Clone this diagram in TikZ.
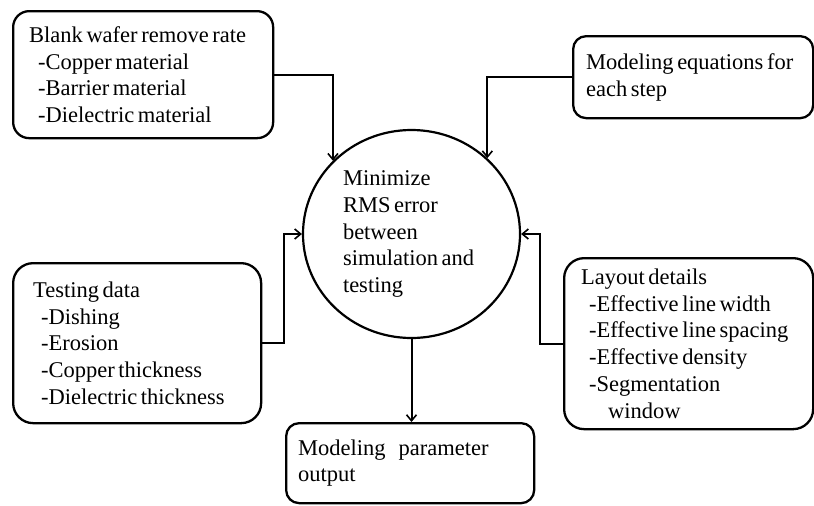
\documentclass[tikz,border=0pt]{standalone}
\usepackage{fontspec}
\setmainfont{Liberation Serif}
\usetikzlibrary{arrows.meta,shapes.geometric}
\begin{document}
\begin{tikzpicture}[x=1pt,y=-1pt,
  txt/.style={font=\fontsize{22.5pt}{26.8pt}\selectfont,
    execute at begin node={\spaceskip=3.6pt plus 1pt minus 0.5pt\xspaceskip=3.6pt\relax}},
  box/.style={draw,line width=2.3pt,rounded corners=#1,anchor=north west,
    inner ysep=0pt,align=left,txt},
  box/.default=16pt,
  conn/.style={line width=2pt,-{Straight Barb[length=6pt,width=10pt,line width=1.6pt]}}
]
\fill[white] (0,0) rectangle (814,506);
\useasboundingbox (0,0) rectangle (814,506);

\node[box=16pt,minimum width=260pt,minimum height=127pt,inner xsep=16pt,text width=228pt] (b1) at (12,10)
  {Blank wafer remove rate\\\hspace*{9pt}-Copper material\\\hspace*{9pt}-Barrier material\\\hspace*{9pt}-Dielectric material};

\node[box=13pt,minimum width=240pt,minimum height=82pt,inner xsep=13pt,text width=214pt] (b2) at (572,35)
  {Modeling equations for\\each step};

\node[box=20pt,minimum width=248pt,minimum height=160pt,inner xsep=20pt,text width=208pt] (b3) at (12,262)
  {Testing data\\\hspace*{8pt}-Dishing\\\hspace*{8pt}-Erosion\\\hspace*{8pt}-Copper thickness\\\hspace*{8pt}-Dielectric thickness};

\node[box=20pt,minimum width=249pt,minimum height=171pt,inner xsep=17pt,text width=215pt] (b4) at (563,257)
  {Layout details\\\hspace*{8pt}-Effective line width\\\hspace*{8pt}-Effective line spacing\\\hspace*{8pt}-Effective density\\\hspace*{8pt}-Segmentation\\\hspace*{27pt}window};

\node[box=13pt,minimum width=248pt,minimum height=80pt,inner xsep=12pt,text width=224pt] (b5) at (285,422)
  {Modeling\hspace{13pt}parameter\\output};

\node[draw,ellipse,line width=2.2pt,minimum width=217pt,minimum height=208pt,inner sep=0pt,
  align=left,text width=137pt,txt] (c) at (411.5,234)
  {Minimize\\RMS error\\between\\simulation and\\testing};

\draw[conn] (b1.east) -| (c.137);
\draw[conn] (b2.west) -| (c.45);
\draw[conn] (b3.east) -- ++(22,0) |- (c.west);
\draw[conn] (b4.west) -- ++(-23,0) |- (c.east);
\draw[conn] (c.south) -- (c.south |- b5.north);
\end{tikzpicture}
\end{document}
